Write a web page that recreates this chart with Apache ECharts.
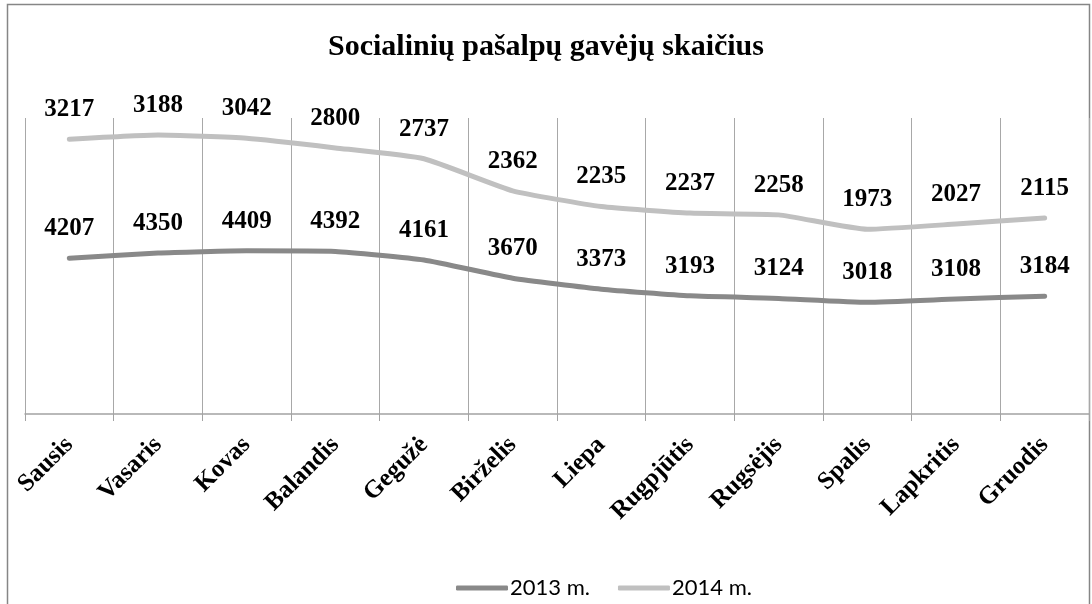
<!DOCTYPE html>
<html>
<head>
<meta charset="utf-8">
<title>Socialinių pašalpų gavėjų skaičius</title>
<script src="https://cdn.jsdelivr.net/npm/echarts@6/dist/echarts.min.js"></script>
<style>
  html, body { margin: 0; padding: 0; background: #fff; }
  #chart { width: 1092px; height: 604px; }
</style>
</head>
<body>
<div id="chart"></div>
<script>
// menesiai
var months = ["Sausis", "Vasaris", "Kovas", "Balandis", "Gegužė", "Birželis",
  "Liepa", "Rugpjūtis", "Rugsėjis", "Spalis", "Lapkritis", "Gruodis"];
var data2013 = [4207, 4350, 4409, 4392, 4161, 3670, 3373, 3193, 3124, 3018, 3108, 3184];
var data2014 = [3217, 3188, 3042, 2800, 2737, 2362, 2235, 2237, 2258, 1973, 2027, 2115];
var seriesNames = ["2013 m.", "2014 m."];

var serif = "'Liberation Serif', 'Times New Roman', serif";

var chart = echarts.init(document.getElementById("chart"), null, { renderer: "canvas" });

var labelStyle = {
  show: true,
  position: "top",
  distance: 17,
  color: "#000",
  fontFamily: serif,
  fontWeight: "bold",
  fontSize: 25
};

function lineSeries(name, values) {
  return {
    name: name,
    type: "line",
    stack: "viso",
    data: values,
    smooth: 0.15,
    // taskai nematomi, bet reikalingi etiketems
    symbol: "circle",
    symbolSize: 0,
    showSymbol: true,
    showAllSymbol: true,
    lineStyle: { width: 5, cap: "round", join: "round" },
    label: labelStyle,
    labelLayout: { hideOverlap: false }
  };
}

var option = {
  animation: false,
  backgroundColor: "#fff",
  color: ["#898989", "#c0c0c0"],
  title: {
    text: "Socialinių pašalpų gavėjų skaičius",
    left: "center",
    top: 27,
    textStyle: {
      fontFamily: serif,
      fontWeight: "bold",
      fontSize: 30,
      color: "#000"
    }
  },
  // remelis aplink
  graphic: [
    {
      type: "rect",
      shape: { x: 7.5, y: 4.5, width: 1082, height: 700 },
      style: { fill: null, stroke: "#868686", lineWidth: 1.5 },
      silent: true
    }
  ],
  legend: {
    left: 451,
    top: 572,
    icon: "roundRect",
    itemWidth: 52,
    itemHeight: 5,
    itemGap: 28,
    data: seriesNames,
    textStyle: {
      fontFamily: "Lato, 'Liberation Sans', sans-serif",
      fontSize: 22,
      color: "#000",
      padding: [0, 0, 0, -3]
    }
  },
  grid: {
    left: 25,
    right: 3,
    top: 118,
    bottom: 190,
    containLabel: false
  },
  xAxis: {
    type: "category",
    data: months,
    boundaryGap: true,
    axisLine: {
      lineStyle: { color: "#a3a3a3", width: 1.5 }
    },
    axisTick: {
      show: true,
      interval: 0,
      length: 7,
      lineStyle: { color: "#a3a3a3" }
    },
    splitLine: {
      show: true,
      interval: 0,
      lineStyle: { color: "#a8a8a8", width: 1 }
    },
    axisLabel: {
      interval: 0,
      rotate: 45,
      margin: 27,
      color: "#000",
      fontFamily: serif,
      fontWeight: "bold",
      fontSize: 25
    }
  },
  yAxis: {
    type: "value",
    min: 0,
    max: 8000,
    show: false,
    splitLine: { show: false }
  },
  series: [
    lineSeries(seriesNames[0], data2013),
    lineSeries(seriesNames[1], data2014)
  ]
};

chart.setOption(option);
</script>
</body>
</html>
